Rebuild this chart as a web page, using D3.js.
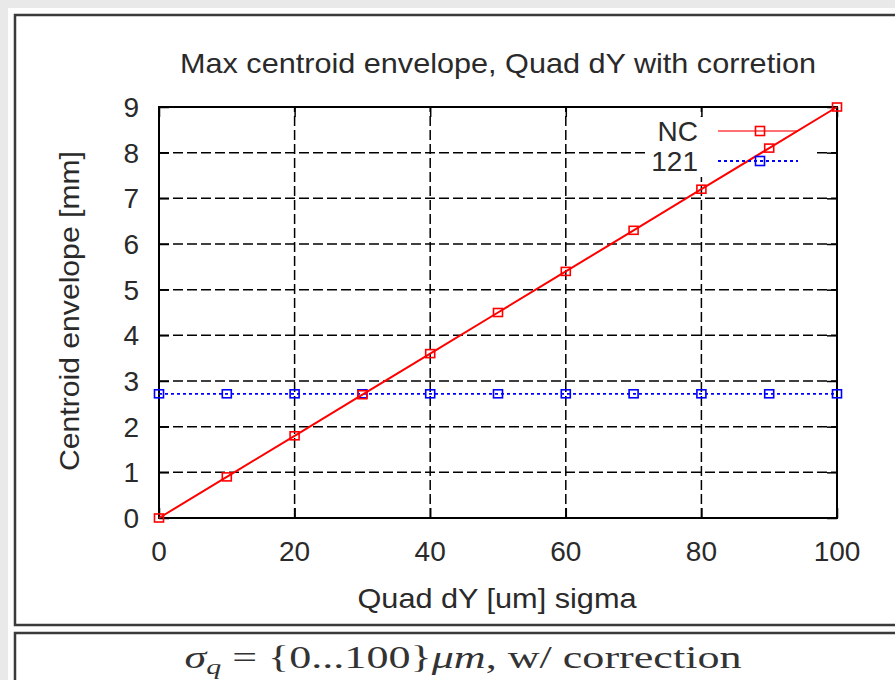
<!DOCTYPE html>
<html>
<head>
<meta charset="utf-8">
<script src="https://cdn.jsdelivr.net/npm/d3@7/dist/d3.min.js"></script>
<style>
  html, body { margin: 0; padding: 0; background: #e9e9e9; }
  svg { display: block; }
</style>
</head>
<body>
<svg id="chart" width="895" height="680"></svg>
<script>
// ---- data ----
const xValues   = [0, 10, 20, 30, 40, 50, 60, 70, 80, 90, 100];
const ncValues  = [0, 0.9, 1.8, 2.7, 3.6, 4.5, 5.4, 6.3, 7.2, 8.1, 9.0];
const s121Values = [2.72, 2.72, 2.72, 2.72, 2.72, 2.72, 2.72, 2.72, 2.72, 2.72, 2.72];
const xTicks = [0, 20, 40, 60, 80, 100];
const yTicks = [0, 1, 2, 3, 4, 5, 6, 7, 8, 9];
const seriesNames = ["NC", "121"];
const titleText = "Max centroid envelope, Quad dY with corretion";
const xLabelText = "Quad dY [um] sigma";
const yLabelText = "Centroid envelope [mm]";

const svg = d3.select("#chart");
const font = "'Liberation Sans', Arial, sans-serif";
const txt = "#2a2a2a";

// page / slide frame
svg.append("rect").attr("x", 8).attr("y", 8).attr("width", 900).attr("height", 680).attr("fill", "#fdfdfd");
svg.append("rect").attr("x", 15).attr("y", 15).attr("width", 900).attr("height", 610)
  .attr("fill", "#fff").attr("stroke", "#3a3a3a").attr("stroke-width", 2.5);
svg.append("rect").attr("x", 15).attr("y", 633).attr("width", 900).attr("height", 80)
  .attr("fill", "#fff").attr("stroke", "#3a3a3a").attr("stroke-width", 2.5);

const x = d3.scaleLinear().domain([0, 100]).range([159, 837]);
const y = d3.scaleLinear().domain([0, 9]).range([518, 107]);

const g = svg.append("g");

// grid
const gridG = g.append("g");
xTicks.filter(t => t !== 0 && t !== 100).forEach(t => {
  gridG.append("line").attr("x1", x(t)).attr("x2", x(t)).attr("y1", y(0)).attr("y2", y(9))
    .attr("stroke", "#000").attr("stroke-width", 1.5).attr("stroke-dasharray", "10,4");
});
yTicks.filter(t => t !== 0 && t !== 9).forEach(t => {
  gridG.append("line").attr("x1", x(0)).attr("x2", x(100)).attr("y1", y(t)).attr("y2", y(t))
    .attr("stroke", "#000").attr("stroke-width", 1.5).attr("stroke-dasharray", "10,4");
});

// legend background box (hides grid)
g.append("rect").attr("x", 645).attr("y", 117).attr("width", 172).attr("height", 60).attr("fill", "#fff");

// ticks (inward, all sides) via d3 axes
const axB = d3.axisBottom(x).tickValues(xTicks).tickSize(-10).tickFormat("");
const axT = d3.axisTop(x).tickValues(xTicks).tickSize(-10).tickFormat("");
const axL = d3.axisLeft(y).tickValues(yTicks).tickSize(-10).tickFormat("");
const axR = d3.axisRight(y).tickValues(yTicks).tickSize(-10).tickFormat("");
[[axB, `translate(0,${y(0)})`], [axT, `translate(0,${y(9)})`], [axL, `translate(${x(0)},0)`], [axR, `translate(${x(100)},0)`]]
  .forEach(([ax, tr]) => {
    const a = g.append("g").attr("transform", tr).call(ax);
    a.select(".domain").remove();
    a.selectAll("line").attr("stroke", "#000").attr("stroke-width", 1.5);
  });

// border
g.append("rect").attr("x", x(0)).attr("y", y(9)).attr("width", x(100) - x(0)).attr("height", y(0) - y(9))
  .attr("fill", "none").attr("stroke", "#000").attr("stroke-width", 2);

// tick labels
g.selectAll(".xt").data(xTicks).enter().append("text")
  .attr("x", d => x(d)).attr("y", 561).attr("text-anchor", "middle")
  .attr("font-family", font).attr("font-size", 28).attr("fill", txt).text(d => d);
g.selectAll(".yt").data(yTicks).enter().append("text")
  .attr("x", 139).attr("y", d => y(d) + 10).attr("text-anchor", "end")
  .attr("font-family", font).attr("font-size", 28).attr("fill", txt).text(d => d);

// title & axis labels
svg.append("text").attr("x", 498).attr("y", 73).attr("text-anchor", "middle")
  .attr("font-family", font).attr("font-size", 28).attr("fill", txt)
  .attr("textLength", 636).attr("lengthAdjust", "spacingAndGlyphs").text(titleText);
svg.append("text").attr("x", 497).attr("y", 608).attr("text-anchor", "middle")
  .attr("font-family", font).attr("font-size", 28).attr("fill", txt)
  .attr("textLength", 279).attr("lengthAdjust", "spacingAndGlyphs").text(xLabelText);
svg.append("text").attr("transform", "translate(79,311) rotate(-90)").attr("text-anchor", "middle")
  .attr("font-family", font).attr("font-size", 28).attr("fill", txt)
  .attr("textLength", 320).attr("lengthAdjust", "spacingAndGlyphs").text(yLabelText);

// data lines
const line = d3.line().x(d => x(d[0])).y(d => y(d[1]));
const ncData = xValues.map((v, i) => [v, ncValues[i]]);
const bData = xValues.map((v, i) => [v, s121Values[i]]);

g.append("path").attr("d", line(bData)).attr("fill", "none").attr("stroke", "#0000ff")
  .attr("stroke-width", 1.8).attr("stroke-dasharray", "3,3");
g.selectAll(".bm").data(bData).enter().append("rect")
  .attr("x", d => x(d[0]) - 4.5).attr("y", d => y(d[1]) - 4).attr("width", 9).attr("height", 8)
  .attr("fill", "none").attr("stroke", "#0000ff").attr("stroke-width", 1.6);

g.append("path").attr("d", line(ncData)).attr("fill", "none").attr("stroke", "#ff0000").attr("stroke-width", 2);
g.selectAll(".rm").data(ncData).enter().append("rect")
  .attr("x", d => x(d[0]) - 4.5).attr("y", d => y(d[1]) - 4).attr("width", 9).attr("height", 8)
  .attr("fill", "none").attr("stroke", "#ff0000").attr("stroke-width", 1.6);

// legend
const legY = [131, 161];
const legColors = ["#ff0000", "#0000ff"];
const legDash = [null, "3,3"];
seriesNames.forEach((name, i) => {
  g.append("text").attr("x", 698).attr("y", legY[i] + 10).attr("text-anchor", "end")
    .attr("font-family", font).attr("font-size", 28).attr("fill", txt).text(name);
  g.append("line").attr("x1", 718).attr("x2", 798).attr("y1", legY[i]).attr("y2", legY[i])
    .attr("stroke", legColors[i]).attr("stroke-width", i === 0 ? 1.4 : 1.8)
    .attr("stroke-opacity", i === 0 ? 0.75 : 1)
    .attr("stroke-dasharray", legDash[i]);
  g.append("rect").attr("x", 755.5).attr("y", legY[i] - 4.5).attr("width", 9).attr("height", 9)
    .attr("fill", "none").attr("stroke", legColors[i]).attr("stroke-width", 1.6);
});

// caption
const cap = svg.append("text").attr("x", 463).attr("y", 668).attr("text-anchor", "middle")
  .attr("font-family", "'Liberation Serif', 'Times New Roman', serif").attr("font-size", 31).attr("fill", "#333")
  .attr("textLength", 557).attr("lengthAdjust", "spacingAndGlyphs");
cap.append("tspan").attr("font-style", "italic").text("σ");
cap.append("tspan").attr("font-style", "italic").attr("font-size", 21).attr("dy", 6).text("q");
cap.append("tspan").attr("dy", -6).text(" = {0...100}");
cap.append("tspan").attr("font-style", "italic").text("μm");
cap.append("tspan").text(", w/ correction");
</script>
</body>
</html>
